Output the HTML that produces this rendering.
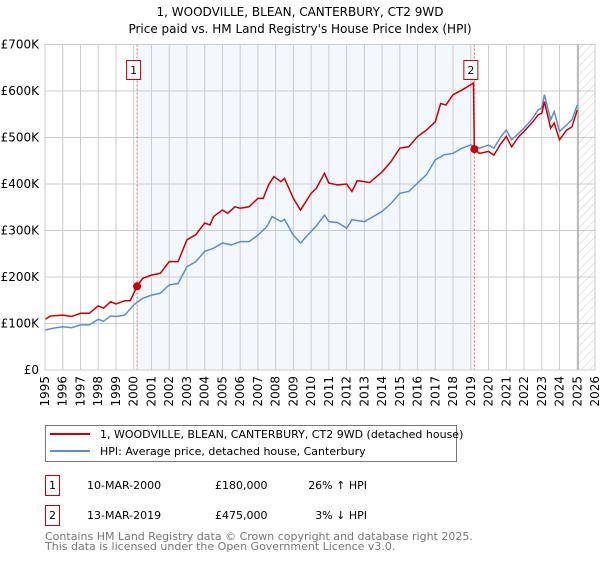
<!DOCTYPE html>
<html><head><meta charset="utf-8"><style>
body{margin:0;background:#fff;font-family:"DejaVu Sans","Liberation Sans",sans-serif;}
svg text{font-family:"DejaVu Sans","Liberation Sans",sans-serif;}
</style></head><body>
<svg id="c" width="600" height="560" viewBox="0 0 600 560" xmlns="http://www.w3.org/2000/svg">
<defs><pattern id="hatch" width="6" height="6" patternUnits="userSpaceOnUse" patternTransform="rotate(45)"><line x1="0" y1="0" x2="0" y2="6" stroke="#ccc" stroke-width="1"/></pattern></defs>
<text x="300" y="16" text-anchor="middle" font-size="12">1, WOODVILLE, BLEAN, CANTERBURY, CT2 9WD</text>
<text x="300" y="33" text-anchor="middle" font-size="12">Price paid vs. HM Land Registry's House Price Index (HPI)</text>
<g id="plot"></g>
<g>
<rect x="45.5" y="425.5" width="411" height="36" fill="#fff" stroke="#777"/>
<line x1="50" y1="434" x2="90" y2="434" stroke="#cc0000" stroke-width="2"/>
<text x="100" y="438" font-size="11">1, WOODVILLE, BLEAN, CANTERBURY, CT2 9WD (detached house)</text>
<line x1="50" y1="451" x2="90" y2="451" stroke="#5b8fd0" stroke-width="2"/>
<text x="100" y="455" font-size="11">HPI: Average price, detached house, Canterbury</text>
</g>
<g font-size="11">
<rect x="45.5" y="475.5" width="14" height="20" fill="#fff" stroke="#cc0000"/><text x="52.5" y="489" text-anchor="middle">1</text>
<text x="87" y="489">10-MAR-2000</text><text x="215" y="489">£180,000</text><text x="367" y="489" text-anchor="end">26% ↑ HPI</text>
<rect x="45.5" y="505.5" width="14" height="20" fill="#fff" stroke="#cc0000"/><text x="52.5" y="519" text-anchor="middle">2</text>
<text x="87" y="519">13-MAR-2019</text><text x="215" y="519">£475,000</text><text x="367" y="519" text-anchor="end">3% ↓ HPI</text>
</g>
<text x="45" y="540" font-size="11" fill="#777">Contains HM Land Registry data © Crown copyright and database right 2025.</text>
<text x="45" y="550" font-size="11" fill="#777">This data is licensed under the Open Government Licence v3.0.</text>
</svg>
<script>
const hpiYears=[1995,1995.5,1996,1996.5,1997,1997.5,1998,1998.3,1998.7,1999,1999.5,2000,2000.5,2001,2001.5,2002,2002.5,2003,2003.5,2004,2004.5,2005,2005.5,2006,2006.5,2007,2007.5,2007.8,2008.3,2008.5,2009,2009.4,2010,2010.3,2010.75,2011,2011.5,2012,2012.3,2013,2014,2014.5,2015,2015.5,2016,2016.5,2017,2017.5,2018,2018.5,2019,2019.5,2020,2020.3,2020.7,2021,2021.3,2021.7,2022,2022.5,2022.8,2023,2023.15,2023.5,2023.7,2024,2024.4,2024.7,2025];
const hpiValues=[86,90,93,91,97,97,109,105,116,115,118,140,154,161,165,183,186,222,233,255,262,273,269,276,276,290,308,330,319,324,290,273,298,310,333,319,317,305,323,319,341,358,380,384,402,420,452,463,466,477,484,477,484,477,502,516,495,509,520,542,560,563,592,538,556,513,527,538,570];
const priceYears=[1995,1995.3,1996,1996.5,1997,1997.5,1998,1998.3,1998.7,1999,1999.5,1999.8,2000.19,2000.5,2001,2001.5,2002,2002.5,2003,2003.5,2004,2004.3,2004.5,2005,2005.3,2005.7,2006,2006.5,2007,2007.3,2007.6,2007.9,2008.3,2008.5,2009,2009.4,2010,2010.3,2010.75,2011,2011.5,2012,2012.3,2012.6,2013,2013.3,2014,2014.5,2015,2015.5,2016,2016.5,2017,2017.3,2017.6,2018,2018.5,2019.15,2019.2,2019.5,2020,2020.3,2020.7,2021,2021.3,2021.7,2022,2022.5,2022.8,2023,2023.15,2023.5,2023.7,2024,2024.4,2024.7,2025];
const priceValues=[109,116,118,115,122,122,138,133,147,142,149,149,180,197,204,208,233,233,280,291,316,312,330,344,337,351,348,351,369,369,398,416,405,412,369,344,380,391,423,402,398,400,384,407,405,403,426,448,477,480,502,516,534,573,570,592,602,617,473,466,470,462,487,502,480,502,513,534,549,552,577,520,531,495,516,523,559];
const saleYears=[2000.19,2019.2];
const saleValues=[180,475];
const saleLabels=["1","2"];
const yTicks=[0,100,200,300,400,500,600,700];
const yTickLabels=["£0","£100K","£200K","£300K","£400K","£500K","£600K","£700K"];
const xTicks=[1995,1996,1997,1998,1999,2000,2001,2002,2003,2004,2005,2006,2007,2008,2009,2010,2011,2012,2013,2014,2015,2016,2017,2018,2019,2020,2021,2022,2023,2024,2025,2026];

const X0=45,X1=595,Y0=370,Y1=44.5;
const xs=y=>X0+(y-1995)/(2026-1995)*(X1-X0);
const ys=v=>Y0-v/700*(Y0-Y1);
const NS="http://www.w3.org/2000/svg";
const g=document.getElementById('plot');
function el(t,a){const e=document.createElementNS(NS,t);for(const k in a)e.setAttribute(k,a[k]);g.appendChild(e);return e;}
let e;
e=el('rect',{x:X0,y:Y1,width:X1-X0,height:Y0-Y1,fill:'#fff'});


e=el('rect',{x:xs(saleYears[0]),y:Y1,width:xs(saleYears[1])-xs(saleYears[0]),height:Y0-Y1,fill:'#eef3fd',opacity:0.7});


e=el('rect',{x:xs(2025.05),y:Y1,width:X1-xs(2025.05),height:Y0-Y1,fill:'url(#hatch)'});


xTicks.forEach(t=>{
 e=el('line',{x1:xs(t),x2:xs(t),y1:Y1,y2:Y0,stroke:'#ccc','stroke-width':1});
 
 
 e=el('text',{x:0,y:0,'font-size':12,'text-anchor':'end',transform:`translate(${xs(t)+4},${Y0+6}) rotate(-90)`});
 e.textContent=t;
 
 
});
yTicks.forEach((t,i)=>{
 e=el('line',{x1:X0,x2:X1,y1:ys(t),y2:ys(t),stroke:'#ccc','stroke-width':1});
 
 
 e=el('text',{x:X0-6,y:ys(t)+4,'font-size':12,'text-anchor':'end'});
 e.textContent=yTickLabels[i];
 
 
});
e=el('line',{x1:xs(2025.05),x2:xs(2025.05),y1:Y1,y2:Y0,stroke:'#999','stroke-width':1});


saleYears.forEach(t=>{
 e=el('line',{x1:xs(t),x2:xs(t),y1:Y1,y2:Y0,stroke:'#f06060','stroke-width':1,'stroke-dasharray':'2,2'});
 
 
});
e=el('polyline',{points:hpiYears.map((y,i)=>xs(y)+','+ys(hpiValues[i])).join(' '),fill:'none',stroke:'#5b8fd0','stroke-width':1.5});


e=el('polyline',{points:priceYears.map((y,i)=>xs(y)+','+ys(priceValues[i])).join(' '),fill:'none',stroke:'#cc0000','stroke-width':1.5});


saleYears.forEach((t,i)=>{
 e=el('circle',{cx:xs(t),cy:ys(saleValues[i]),r:4,fill:'#cc0000'});
 
 
 e=el('rect',{x:xs(t)-10.5,y:60.5,width:14,height:19,fill:'#fff',stroke:'#cc0000'});
 
 
 e=el('text',{x:xs(t)-3.5,y:74,'font-size':11,'text-anchor':'middle'});
 e.textContent=saleLabels[i];
 
 
});
e=el('rect',{x:X0,y:Y1,width:X1-X0,height:Y0-Y1,fill:'none',stroke:'#ccc'});


</script>
</body></html>
